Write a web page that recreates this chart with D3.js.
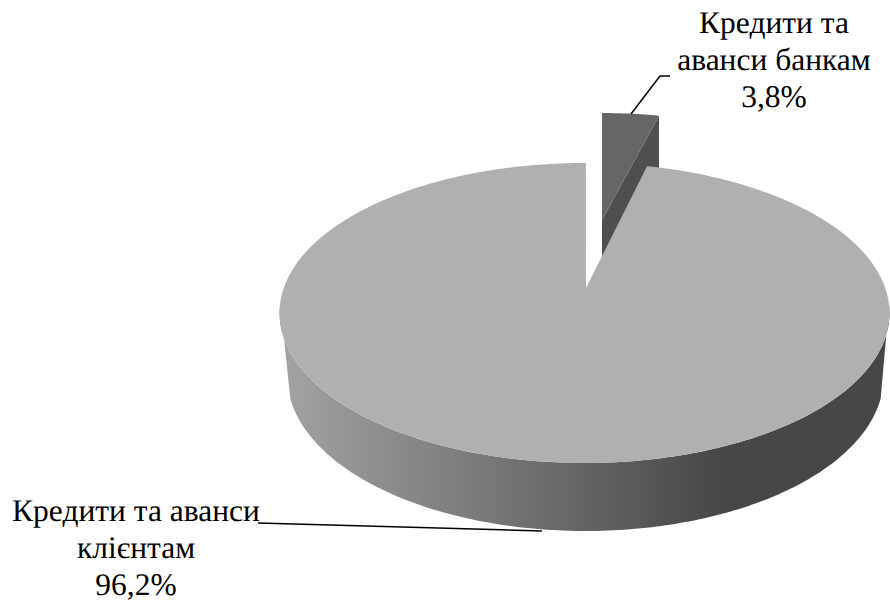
<!DOCTYPE html>
<html><head><meta charset="utf-8">
<script src="https://cdn.jsdelivr.net/npm/d3@7"></script>
<style>html,body{margin:0;padding:0;background:#fff;overflow:hidden}text{font-family:"Liberation Serif",serif;font-size:31.5px;fill:#000;text-rendering:geometricPrecision}</style>
</head><body><svg id="c" width="890" height="602"></svg>
<script>
const categories = ["Кредити та аванси банкам", "Кредити та аванси клієнтам"];
const values = [3.8, 96.2];
const labelLines = [["Кредити та", "аванси банкам", "3,8%"], ["Кредити та аванси", "клієнтам", "96,2%"]];

const svg = d3.select("#c");
const slices = d3.pie().sort(null).value(d => d)(values);
const k = 1/6;
const rad = d => d*Math.PI/180;
function projector(ax, ay, A, B, rot=0){
  return a => {
    const u = Math.sin(a+rot), v = Math.cos(a+rot), w = 1 + k*v;
    return [ax + B*u/w, ay - A*v/w];
  };
}
const topFace = projector(584.5, 288, 145.83, 300.7, rad(0.3));
const baseFace = projector(585.5, 351, 150, 294);
const wedgeFace = projector(602, 220, 124.8, 280);
const line = d3.line();
const samples = (a0, a1, n=160) => d3.range(n+1).map(i => a0 + (a1-a0)*i/n);

const defs = svg.append("defs");
const grad = defs.append("linearGradient").attr("id","wall").attr("gradientUnits","userSpaceOnUse")
  .attr("x1",285).attr("x2",890).attr("y1",0).attr("y2",0);
[[0,"#a2a2a2"],[0.72,"#474747"],[1,"#474747"]].forEach(s => grad.append("stop").attr("offset",s[0]).attr("stop-color",s[1]));

const wallTop = samples(rad(96), rad(264)).map(topFace);
const wallBase = samples(rad(252.5), rad(107.5)).map(baseFace);
svg.append("path").attr("d", line(wallTop.concat(wallBase)) + "Z").attr("fill","url(#wall)");

const s0 = slices[0];
const depth = 55;
const rim = wedgeFace(s0.endAngle);
const apexW = [602,220];
const off = p => [p[0], p[1]+depth];
svg.append("path").attr("d", line([rim, apexW, off(apexW), off(rim)]) + "Z").attr("fill","#4f4f4f");
svg.append("path").attr("d", line([apexW].concat(samples(s0.startAngle, s0.endAngle, 30).map(wedgeFace))) + "Z").attr("fill","#666666");

const s1 = slices[1];
svg.append("path").attr("d", line([[586,288]].concat(samples(s1.startAngle, s1.endAngle, 400).map(topFace))) + "Z").attr("fill","#b0b0b0");

svg.append("path").attr("d", line([[631,114],[660,76],[670,76]])).attr("fill","none").attr("stroke","#000").attr("stroke-width",1.5);
svg.append("path").attr("d", line([[258,523],[542,531]])).attr("fill","none").attr("stroke","#000").attr("stroke-width",1.5);

const anchors = [[774,33],[136,521]];
labelLines.forEach((ls,i) => ls.forEach((t,j) =>
  svg.append("text").attr("x",anchors[i][0]).attr("y",anchors[i][1]+j*36.8).attr("text-anchor","middle").text(t)));
</script></body></html>
